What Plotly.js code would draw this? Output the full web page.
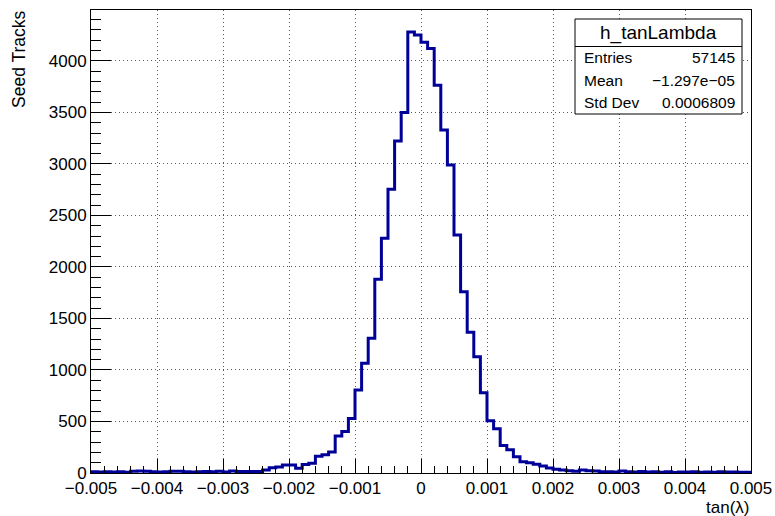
<!DOCTYPE html>
<html>
<head>
<meta charset="utf-8">
<script src="https://cdn.plot.ly/plotly-3.0.1.min.js"></script>
<style>html,body{margin:0;padding:0;background:#fff;}#chart{width:775px;height:516px;}</style>
</head>
<body>
<div id="chart"></div>
<script>
// Histogram definition: 100 bins from -0.005 to 0.005
const xMin = -0.005;
const xMax = 0.005;
const binWidth = 0.0001;
const counts = [
  12, 10, 11, 9, 13, 8, 18, 20, 16, 12,
  10, 13, 18, 17, 12, 10, 11, 14, 12, 16,
  10, 19, 15, 15, 15, 15, 29, 50, 58, 77,
  78, 47, 82, 94, 162, 178, 203, 359, 403, 530,
  806, 1065, 1307, 1880, 2278, 2754, 3223, 3498, 4280, 4252,
  4180, 4120, 3764, 3330, 2990, 2311, 1760, 1366, 1129, 780,
  508, 430, 267, 226, 158, 110, 100, 84, 68, 49,
  36, 29, 22, 16, 29, 22, 19, 13, 13, 10,
  19, 12, 10, 14, 9, 11, 8, 12, 6, 10,
  9, 12, 7, 10, 8, 11, 9, 10, 7, 8
];
const histName = "h_tanLambda";
const statsLabels = ["Entries", "Mean", "Std Dev"];
const statsValues = ["57145", "\u22121.297e\u221205", "0.0006809"];
const xTitle = "tan(\u03bb)";
const yTitle = "Seed Tracks";

// Build step outline from bin edges
const xs = [];
const ys = [];
for (let i = 0; i < counts.length; i++) {
  xs.push(xMin + i * binWidth);
  ys.push(counts[i]);
}
xs.push(xMax);
ys.push(counts[counts.length - 1]);

const yMax = Math.max(...counts) * 1.05;

const FONT = "Liberation Sans, Arial, Helvetica, sans-serif";

// layout geometry (pixels)
const W = 775, H = 516, L = 91, R = 24, T = 10, B = 43;
const pw = W - L - R, ph = H - T - B;
const px = X => (X - L) / pw;
const py = Y => (H - B - Y) / ph;

const trace = {
  x: xs, y: ys, type: 'scatter', mode: 'lines',
  line: {shape: 'hv', color: '#000099', width: 3},
  hoverinfo: 'skip', showlegend: false
};

const gridCol = '#555555';

const layout = {
  width: W, height: H,
  margin: {l: L, r: R, t: T, b: B, pad: 0},
  paper_bgcolor: '#fff', plot_bgcolor: '#fff',
  font: {family: FONT, size: 17, color: '#000'},
  showlegend: false,
  xaxis: {
    range: [xMin, xMax], tick0: 0, dtick: 0.001,
    ticks: 'inside', ticklen: 14, tickwidth: 1, tickcolor: '#000',
    minor: {dtick: 0.0002, ticks: 'inside', ticklen: 7, tickwidth: 1, tickcolor: '#000', showgrid: false},
    showgrid: true, gridcolor: gridCol, gridwidth: 1, griddash: '1px,3px',
    zeroline: false, showline: true, mirror: true, linecolor: '#000', linewidth: 1,
    tickfont: {family: FONT, size: 17, color: '#000'},
    fixedrange: true
  },
  yaxis: {
    range: [0, yMax], tick0: 0, dtick: 500,
    ticks: 'inside', ticklen: 20, tickwidth: 1, tickcolor: '#000',
    minor: {dtick: 100, ticks: 'inside', ticklen: 10, tickwidth: 1, tickcolor: '#000', showgrid: false},
    showgrid: true, gridcolor: gridCol, gridwidth: 1, griddash: '1px,3px',
    zeroline: false, showline: true, mirror: true, linecolor: '#000', linewidth: 1,
    tickfont: {family: FONT, size: 17, color: '#000'},
    fixedrange: true
  },
  shapes: [
    {type: 'rect', xref: 'paper', yref: 'paper', layer: 'above',
     x0: px(575), x1: px(742), y0: py(114), y1: py(19),
     line: {color: '#000', width: 1}, fillcolor: '#fff'},
    {type: 'line', xref: 'paper', yref: 'paper', layer: 'above',
     x0: px(575), x1: px(742), y0: py(46.5), y1: py(46.5),
     line: {color: '#000', width: 1}}
  ],
  annotations: [
    {text: yTitle, xref: 'paper', yref: 'paper', x: px(19), y: py(8),
     xanchor: 'center', yanchor: 'top', textangle: -90, showarrow: false,
     font: {family: FONT, size: 17.5, color: '#000'}},
    {text: xTitle, xref: 'paper', yref: 'paper', x: px(751), y: py(508),
     xanchor: 'right', yanchor: 'middle', showarrow: false,
     font: {family: FONT, size: 17, color: '#000'}},
    {text: histName, xref: 'paper', yref: 'paper', x: px(658.5), y: py(33),
     xanchor: 'center', yanchor: 'middle', showarrow: false,
     font: {family: FONT, size: 19, color: '#000'}}
  ]
};

const rowY = [57.7, 80, 102.3];
for (let i = 0; i < statsLabels.length; i++) {
  layout.annotations.push({text: statsLabels[i], xref: 'paper', yref: 'paper',
    x: px(582), y: py(rowY[i]), xanchor: 'left', yanchor: 'middle', showarrow: false,
    font: {family: FONT, size: 15.5, color: '#000'}});
  layout.annotations.push({text: statsValues[i], xref: 'paper', yref: 'paper',
    x: px(736.5), y: py(rowY[i]), xanchor: 'right', yanchor: 'middle', showarrow: false,
    font: {family: FONT, size: 15.5, color: '#000'}});
}

Plotly.newPlot('chart', [trace], layout, {staticPlot: true, displayModeBar: false});
</script>
</body>
</html>
